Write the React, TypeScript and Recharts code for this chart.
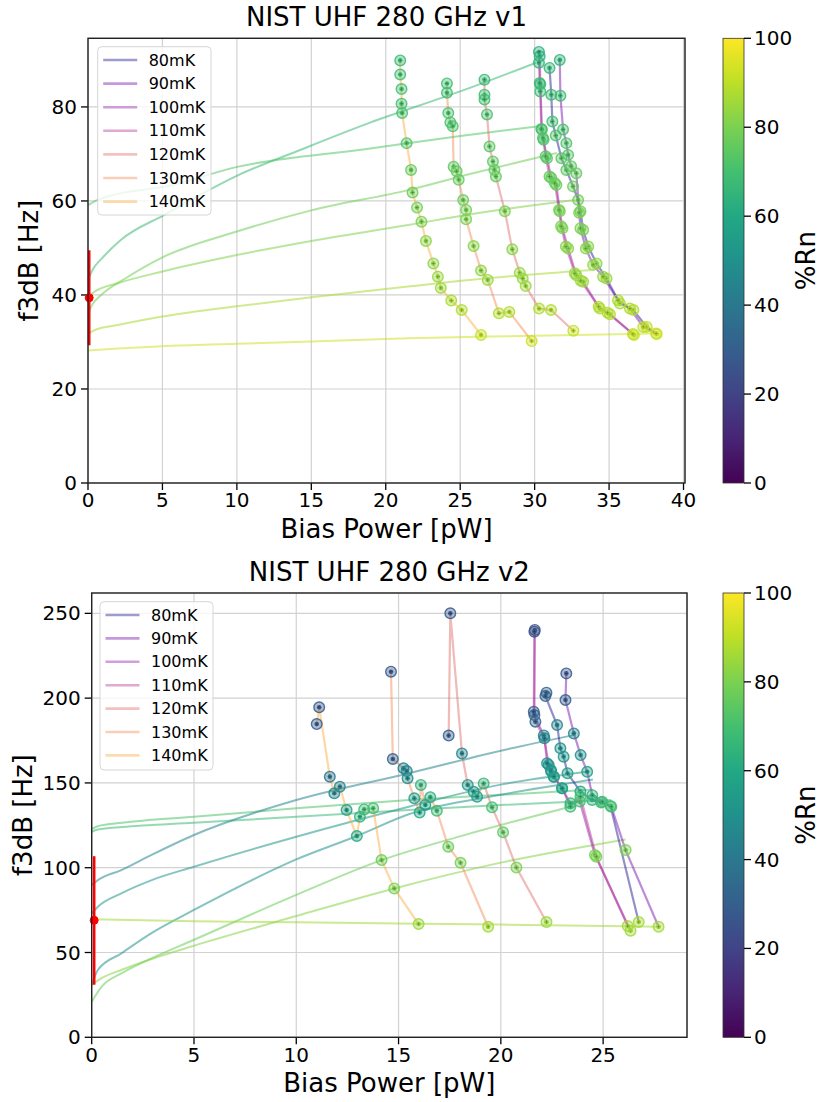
import { ComposedChart, Line, Scatter, XAxis, YAxis, CartesianGrid } from "recharts";

const temps = ["80mK", "90mK", "100mK", "110mK", "120mK", "130mK", "140mK"];
const tempColors = ["#0d0887", "#6a00a8", "#8f0da4", "#b12a90", "#e16462", "#f2844b", "#fca636"];

// v1 points: [bias power pW, f3dB Hz, %Rn]
const v1_80 = [
  [31.0, 88.3, 66], [31.12, 82.6, 68], [31.19, 76.9, 70], [31.42, 73.9, 72], [31.8, 69.1, 74],
  [32.13, 66.6, 75], [32.58, 63.1, 77], [32.92, 60.2, 78], [33.08, 57.8, 79], [33.26, 53.8, 80],
  [33.6, 50.3, 82], [34.16, 46.7, 83], [34.83, 43.5, 85], [35.73, 38.2, 87], [36.63, 36.8, 88],
  [37.53, 33.2, 90], [38.2, 31.7, 92],
];
const v1_90 = [
  [31.69, 90.0, 65], [31.73, 82.4, 68], [31.91, 75.2, 71], [32.13, 72.3, 72], [32.25, 69.8, 73],
  [32.45, 67.4, 75], [32.8, 65.9, 76], [32.99, 57.5, 79], [33.08, 54.2, 80], [33.44, 49.9, 82],
  [33.93, 46.4, 83], [34.6, 43.9, 84], [35.6, 38.9, 87], [36.4, 37.1, 88], [37.3, 33.2, 90],
  [38.16, 31.8, 92],
];
const v1_100 = [
  [30.34, 90.8, 64], [30.38, 84.8, 67], [30.49, 75.2, 71], [30.6, 73.0, 72], [30.83, 69.1, 74],
  [31.12, 64.9, 76], [31.46, 63.4, 77], [31.69, 57.8, 79], [31.87, 54.2, 80], [32.25, 49.9, 82],
  [32.8, 44.2, 84], [33.26, 42.8, 85], [34.38, 37.1, 88], [35.06, 35.9, 88], [36.67, 31.5, 92],
];
const v1_110 = [
  [30.29, 91.7, 63], [30.29, 89.4, 65], [30.34, 85.1, 67], [30.38, 83.3, 68], [30.45, 75.3, 71],
  [30.56, 73.4, 72], [30.74, 69.5, 74], [31.0, 65.2, 76], [31.35, 63.8, 77], [31.64, 58.1, 79],
  [31.78, 54.6, 80], [32.1, 50.3, 82], [32.7, 44.6, 84], [33.1, 43.0, 85], [34.3, 37.5, 88],
  [34.9, 36.2, 88], [36.6, 31.7, 91],
];
const v1_120 = [
  [26.63, 85.8, 68], [26.63, 82.6, 69], [26.63, 81.6, 70], [26.8, 78.4, 71], [26.97, 71.6, 74],
  [27.2, 68.4, 75], [27.3, 66.6, 76], [27.4, 65.2, 76], [28.0, 57.8, 80], [28.5, 49.7, 82],
  [29.0, 44.7, 84], [29.2, 43.5, 84], [29.4, 41.9, 85], [30.3, 37.1, 88], [31.1, 36.8, 88],
  [32.6, 32.4, 91],
];
const v1_130 = [
  [24.11, 85.0, 69], [24.11, 83.0, 69], [24.2, 78.7, 71], [24.34, 76.7, 71], [24.5, 75.9, 72],
  [24.56, 67.3, 75], [24.76, 66.3, 76], [24.9, 64.5, 76], [25.2, 60.2, 78], [25.4, 58.1, 79],
  [25.4, 56.1, 80], [25.9, 50.4, 82], [26.4, 45.2, 83], [26.85, 43.2, 84], [27.6, 36.1, 88],
  [28.3, 36.4, 88], [29.8, 30.2, 92],
];
const v1_140 = [
  [20.97, 89.9, 68], [20.97, 86.9, 69], [21.06, 83.8, 70], [21.06, 80.7, 70], [21.1, 78.7, 71],
  [21.4, 72.3, 73], [21.7, 66.6, 76], [21.8, 61.8, 78], [22.1, 58.6, 79], [22.4, 55.6, 80],
  [22.7, 51.5, 82], [23.2, 46.7, 83], [23.5, 43.9, 84], [23.7, 41.5, 85], [24.4, 38.8, 87],
  [25.1, 36.8, 88], [26.4, 31.5, 91],
];
const v1Series = [v1_80, v1_90, v1_100, v1_110, v1_120, v1_130, v1_140];

// v1 fit curves: [bias power, f3dB]
const v1FitA = [[0, 59.1], [0.5, 60], [2, 61.5], [5.1, 63], [10.1, 67.3], [18.6, 71], [25, 73.8], [30.3, 75.9]];
const v1FitB = [[0, 43.2], [0.3, 45.3], [1, 48], [2.2, 51.7], [5.1, 57], [10.1, 65.5], [14.3, 70.9], [18.9, 76.6], [25, 83.3], [30.1, 89.4]];
const v1FitC = [[0, 36.1], [0.3, 38], [1, 40.3], [2.5, 43.5], [5, 48], [10, 53.5], [15, 58], [21.5, 62.3], [26, 66], [31.5, 70.2]];
const v1FitD = [[0, 39.6], [0.5, 40.8], [2, 42.5], [5, 45], [10, 48.5], [15, 51.5], [21.5, 54.9], [27, 57.8], [32.7, 60.2]];
const v1FitE = [[0, 31.8], [0.5, 32.6], [2, 33.6], [5, 35.4], [10, 37.6], [15, 39.5], [21.5, 41.8], [27, 43.6], [33.8, 45.3]];
const v1FitF = [[0, 28.2], [2, 28.6], [5, 29.1], [10, 29.6], [15, 30.1], [21.5, 30.8], [30, 31.3], [38.2, 31.8]];
const v1Fits = [v1FitA, v1FitB, v1FitC, v1FitD, v1FitE, v1FitF];
const v1FitRn = [73, 68, 78, 81, 87, 93];
const v1Err = { x: 0.08, y: 39.4, lo: 29.3, hi: 49.5 };

// v2 points: [bias power pW, f3dB Hz, %Rn]
const v2_80 = [
  [22.23, 203.2, 30], [22.18, 201.2, 31], [22.75, 184.1, 45], [22.91, 170.4, 50], [23.07, 165.5, 52],
  [23.26, 155.7, 55], [23.89, 144.9, 60], [24.46, 140.0, 65], [24.9, 138.4, 68], [25.36, 136.4, 70],
  [26.74, 68.0, 86],
];
const v2_90 = [
  [23.2, 214.6, 27], [23.16, 198.9, 30], [23.57, 179.2, 45], [23.9, 166.4, 50], [24.22, 156.6, 55],
  [24.47, 142.8, 65], [24.96, 138.9, 68], [25.4, 136.0, 70], [26.1, 110.4, 80], [27.71, 65.2, 86],
];
const v2_100 = [
  [21.66, 240.2, 25], [21.64, 190.0, 31], [22.1, 178.0, 44], [22.34, 160.6, 50], [22.45, 157.6, 52],
  [22.58, 153.7, 55], [22.99, 146.8, 58], [23.4, 138.0, 66], [23.86, 139.0, 70], [24.6, 107.5, 80],
  [26.34, 62.9, 86],
];
const v2_110 = [
  [21.64, 239.2, 25], [21.61, 192.0, 30], [21.69, 186.1, 33], [22.13, 176.3, 45], [22.26, 161.6, 50],
  [22.46, 156.7, 52], [22.6, 153.7, 55], [23.0, 146.8, 58], [23.4, 136.0, 68], [23.89, 141.9, 70],
  [24.67, 106.5, 80], [26.2, 65.6, 86],
];
const v2_120 = [
  [17.45, 177.9, 30], [17.53, 250.0, 28], [18.1, 167.4, 45], [18.38, 148.8, 52], [18.67, 144.8, 54],
  [18.84, 141.9, 56], [19.16, 149.7, 66], [19.57, 135.6, 70], [20.11, 120.9, 75], [20.76, 100.1, 80],
  [22.23, 68.0, 85],
];
const v2_130 = [
  [14.63, 215.6, 27], [14.72, 164.1, 30], [15.24, 158.6, 42], [15.4, 157.0, 45], [15.44, 152.7, 48],
  [15.77, 140.9, 55], [16.03, 132.5, 60], [16.09, 148.8, 65], [16.31, 137.0, 56], [16.55, 141.6, 62],
  [16.87, 133.6, 68], [17.43, 112.4, 77], [18.03, 102.9, 79], [19.38, 65.2, 86],
];
const v2_140 = [
  [11.0, 184.7, 28], [11.12, 194.6, 27], [11.64, 153.7, 38], [11.86, 143.9, 45], [12.13, 147.8, 44],
  [12.46, 134.0, 55], [12.96, 118.7, 60], [13.11, 130.1, 64], [13.32, 134.4, 67], [13.76, 135.0, 70],
  [14.17, 104.5, 78], [14.79, 87.8, 80], [15.98, 66.8, 85],
];
const v2Series = [v2_80, v2_90, v2_100, v2_110, v2_120, v2_130, v2_140];

const v2FitA = [[0, 121.2], [0.3, 122.5], [1.5, 124], [5, 126.5], [10, 130], [15.5, 134], [20, 137], [25.4, 140]];
const v2FitB = [[0, 122.8], [0.3, 124.5], [1.5, 126.5], [5, 130], [10, 135], [15.5, 139.9], [20, 143], [24.5, 146]];
const v2FitC = [[0, 89.8], [0.3, 92.7], [1.45, 98.6], [3, 108], [5, 119.3], [10, 139.9], [15.47, 155.6], [20, 169], [23.56, 178.2]];
const v2FitD = [[0, 73.1], [0.3, 77], [1.45, 84.9], [3, 93], [5, 100.6], [10, 118.3], [15.5, 136], [20, 149], [24.22, 156.6]];
const v2FitE = [[0, 30.8], [0.3, 39.7], [1.45, 49.5], [3, 62], [5, 75.1], [10, 104.9], [12.96, 118.7], [15.5, 131.5], [20, 143], [24.5, 152]];
const v2FitF = [[0, 21], [0.5, 30], [1.5, 38], [3, 47], [5, 57.5], [10, 84], [14.17, 104.5], [18, 118.5], [23.4, 136]];
const v2FitG = [[0, 31], [0.5, 35], [1.5, 40], [3, 46.5], [5, 54], [10, 71.5], [14.79, 87.8], [20, 103], [26.1, 116.7]];
const v2FitH = [[0, 69.6], [5, 68.5], [10, 67.8], [16, 67], [20, 66.5], [27.7, 65.2]];
const v2Fits = [v2FitA, v2FitB, v2FitC, v2FitD, v2FitE, v2FitF, v2FitG, v2FitH];
const v2FitRn = [68, 72, 45, 52, 50, 77, 82, 86];
const v2Err = { x: 0.12, y: 69, lo: 31, hi: 106.8 };

const v1XTicks = [0, 5, 10, 15, 20, 25, 30, 35, 40];
const v1YTicks = [0, 20, 40, 60, 80];
const v2XTicks = [0, 5, 10, 15, 20, 25];
const v2YTicks = [0, 50, 100, 150, 200, 250];
const cbarTicks = [0, 20, 40, 60, 80, 100];

const VIRIDIS = ["#440154", "#482475", "#414487", "#355f8d", "#2a788e", "#21918c", "#22a884", "#44bf70", "#7ad151", "#bddf26", "#fde725"];

function hexToRgb(h: string) {
  return [1, 3, 5].map((i) => parseInt(h.slice(i, i + 2), 16));
}

function viridis(t: number) {
  const v = Math.max(0, Math.min(1, t)) * 10;
  const i = Math.min(9, Math.floor(v));
  const f = v - i;
  const a = hexToRgb(VIRIDIS[i]);
  const b = hexToRgb(VIRIDIS[i + 1]);
  const c = a.map((x, k) => Math.round(x + (b[k] - x) * f));
  return `rgb(${c[0]},${c[1]},${c[2]})`;
}

const toPts = (arr: number[][]) => arr.map(([x, y, rn]) => ({ x, y, rn }));
const toXY = (arr: number[][]) => arr.map(([x, y]) => ({ x, y }));

function Marker(props: any) {
  const { cx, cy, payload } = props;
  if (cx == null || cy == null) return null;
  const c = viridis(payload.rn / 100);
  return (
    <g>
      <circle cx={cx} cy={cy} r={5.3} fill={c} fillOpacity={0.4} stroke={c} strokeOpacity={0.85} strokeWidth={1.4} />
      <circle cx={cx} cy={cy} r={2.3} fill={c} fillOpacity={0.95} />
      <path d={`M${cx - 2} ${cy}H${cx + 2}M${cx} ${cy - 2}V${cy + 2}`} stroke="#000" strokeOpacity={0.25} strokeWidth={0.8} />
    </g>
  );
}

function RedDot(props: any) {
  const { cx, cy } = props;
  if (cx == null || cy == null) return null;
  return <circle cx={cx} cy={cy} r={4} fill="#ff0000" stroke="#ff0000" strokeWidth={1} />;
}

type Geo = { left: number; top: number; right: number; bottom: number; divTop: number; divH: number };

const geo1: Geo = { left: 88, top: 38.3, right: 685, bottom: 483, divTop: 0, divH: 545 };
const geo2: Geo = { left: 91.7, top: 593, right: 687, bottom: 1037.3, divTop: 560, divH: 530 };
const CHART_W = 700;
const Y_W = 60;
const X_H = 40;

function Panel({ geo, series, fits, fitRn, err, xMax, yMax, xTicks, yTicks }: any) {
  const margin = {
    top: geo.top - geo.divTop,
    left: geo.left - Y_W,
    right: CHART_W - geo.right,
    bottom: geo.divTop + geo.divH - geo.bottom - X_H,
  };
  const tick = { fill: "#000", fontSize: 20 };
  return (
    <div style={{ position: "absolute", left: 0, top: geo.divTop }}>
      <ComposedChart width={CHART_W} height={geo.divH} margin={margin}>
        <CartesianGrid stroke="#d2d2d2" strokeWidth={1.2} />
        <XAxis
          type="number"
          dataKey="x"
          domain={[0, xMax]}
          ticks={xTicks}
          height={X_H}
          axisLine={false}
          tickLine={{ stroke: "#000", strokeWidth: 1.3 }}
          tickSize={7}
          tickMargin={3}
          tick={tick}
        />
        <YAxis
          type="number"
          dataKey="y"
          domain={[0, yMax]}
          ticks={yTicks}
          width={Y_W}
          axisLine={false}
          tickLine={{ stroke: "#000", strokeWidth: 1.3 }}
          tickSize={7}
          tickMargin={4}
          tick={tick}
        />
        {fits.map((f: number[][], i: number) => (
          <Line
            key={"fit" + i}
            data={toXY(f)}
            dataKey="y"
            type="monotone"
            stroke={viridis(fitRn[i] / 100)}
            strokeOpacity={0.55}
            strokeWidth={2}
            dot={false}
            activeDot={false}
            isAnimationActive={false}
          />
        ))}
        {series.map((s: number[][], i: number) => (
          <Line
            key={"t" + i}
            data={toPts(s)}
            dataKey="y"
            type="linear"
            stroke={tempColors[i]}
            strokeOpacity={0.45}
            strokeWidth={2.2}
            dot={false}
            activeDot={false}
            isAnimationActive={false}
          />
        ))}
        {series.map((s: number[][], i: number) => (
          <Scatter key={"s" + i} data={toPts(s)} dataKey="y" shape={Marker} isAnimationActive={false} />
        ))}
        <Line
          data={[{ x: err.x, y: err.lo }, { x: err.x, y: err.hi }]}
          dataKey="y"
          type="linear"
          stroke="#ff0000"
          strokeWidth={2.6}
          dot={false}
          activeDot={false}
          isAnimationActive={false}
        />
        <Scatter data={[{ x: err.x, y: err.y }]} dataKey="y" shape={RedDot} isAnimationActive={false} />
      </ComposedChart>
    </div>
  );
}

function Decor({ geo, title, legendBox, cbarId }: any) {
  const cx = (geo.left + geo.right) / 2;
  const cy = (geo.top + geo.bottom) / 2;
  const h = geo.bottom - geo.top;
  const lb = legendBox;
  return (
    <g>
      <rect x={geo.left} y={geo.top} width={geo.right - geo.left} height={h} fill="none" stroke="#222" strokeWidth={1.4} />
      <text x={cx} y={geo.top - 12} textAnchor="middle" fontSize={26}>{title}</text>
      <text x={cx} y={geo.bottom + 55} textAnchor="middle" fontSize={26}>Bias Power [pW]</text>
      <text x={lb.ylabelX} y={cy} textAnchor="middle" fontSize={26} transform={`rotate(-90 ${lb.ylabelX} ${cy})`}>f3dB [Hz]</text>

      <rect x={lb.x} y={lb.y} width={lb.w} height={lb.h} rx={4} fill="#fff" fillOpacity={0.8} stroke="#d6d6d6" strokeWidth={1} />
      {temps.map((t, i) => {
        const ry = lb.row0 + i * lb.step;
        return (
          <g key={t}>
            <line x1={lb.x + 5.5} x2={lb.x + 39.5} y1={ry} y2={ry} stroke={tempColors[i]} strokeOpacity={0.4} strokeWidth={2.6} />
            <text x={lb.x + 51} y={ry + 5.6} fontSize={16}>{t}</text>
          </g>
        );
      })}

      <defs>
        <linearGradient id={cbarId} x1="0" y1="1" x2="0" y2="0">
          {VIRIDIS.map((c, i) => (
            <stop key={i} offset={i / 10} stopColor={c} />
          ))}
        </linearGradient>
      </defs>
      <rect x={723} y={geo.top} width={21} height={h} fill={`url(#${cbarId})`} stroke="#333" strokeWidth={0.8} />
      {cbarTicks.map((v) => {
        const ty = geo.bottom - (v / 100) * h;
        return (
          <g key={v}>
            <line x1={744} x2={751} y1={ty} y2={ty} stroke="#000" strokeWidth={1.3} />
            <text x={754} y={ty + 7} fontSize={20}>{v}</text>
          </g>
        );
      })}
      <text x={815} y={cy} textAnchor="middle" fontSize={26} transform={`rotate(-90 815 ${cy})`}>%Rn</text>
    </g>
  );
}

export default function App() {
  return (
    <div style={{ position: "absolute", left: 0, top: 0, width: 823, height: 1102, background: "#fff", fontFamily: "'DejaVu Sans', sans-serif" }}>
      <Panel geo={geo1} series={v1Series} fits={v1Fits} fitRn={v1FitRn} err={v1Err} xMax={40.1} yMax={94.6} xTicks={v1XTicks} yTicks={v1YTicks} />
      <Panel geo={geo2} series={v2Series} fits={v2Fits} fitRn={v2FitRn} err={v2Err} xMax={29.1} yMax={262} xTicks={v2XTicks} yTicks={v2YTicks} />
      <svg width={823} height={1102} style={{ position: "absolute", left: 0, top: 0, pointerEvents: "none" }}>
        <Decor
          geo={geo1}
          title="NIST UHF 280 GHz v1"
          cbarId="cb1"
          legendBox={{ x: 97.7, y: 46.7, w: 113.3, h: 168.3, row0: 60, step: 23.6, ylabelX: 38 }}
        />
        <Decor
          geo={geo2}
          title="NIST UHF 280 GHz v2"
          cbarId="cb2"
          legendBox={{ x: 100, y: 601.7, w: 113, h: 168.3, row0: 615, step: 23.4, ylabelX: 32 }}
        />
      </svg>
    </div>
  );
}
